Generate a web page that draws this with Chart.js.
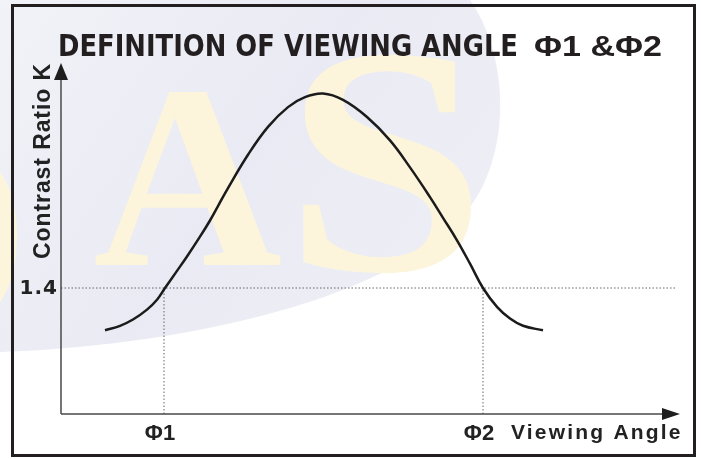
<!DOCTYPE html>
<html>
<head>
<meta charset="utf-8">
<script src="https://cdn.jsdelivr.net/npm/chart.js@4.4.1/dist/chart.umd.min.js"></script>
<style>
  html, body { margin:0; padding:0; background:#fff; }
  #wrap { width:701px; height:459px; position:relative; }
</style>
</head>
<body>
<div id="wrap"><canvas id="c"></canvas></div>
<script>
// Curve: viewing angle (deg, 0 = peak) vs contrast ratio K
const angles   = [-54.5, -50.75, -47.5, -44, -41.5, -39.5, -36.5, -34, -30.75, -28.25, -26.25, -23.75,
                  -18.75, -13.75, -8.75, -4.5, 0,
                  5, 11, 16.75, 21.75, 26.75, 30, 33.5, 36.75, 40, 43.5, 46.75, 50, 55];
const contrast = [0.93, 0.98, 1.05, 1.16, 1.27, 1.4, 1.59, 1.75, 1.97, 2.15, 2.31, 2.51,
                  2.88, 3.19, 3.41, 3.52, 3.56,
                  3.49, 3.3, 3.04, 2.74, 2.41, 2.18, 1.93, 1.67, 1.4, 1.19, 1.06, 0.98, 0.93];
const thresholdK = 1.4;
const phiAngles  = [-39.75, 40];
const phiLabels  = ['Φ1', 'Φ2'];
const xRange = [-65.5, 89.25];
const yRange = [0, 3.9];

const TITLE = 'DEFINITION OF VIEWING ANGLE';
const TITLE_PHI = 'Φ1 &Φ2';

// draw text squeezed/stretched to an exact width
const fitText = (ctx, txt, x, y, w, font) => {
  ctx.save();
  ctx.font = font;
  const m = ctx.measureText(txt).width;
  ctx.translate(x, y);
  ctx.scale(w / m, 1);
  ctx.fillText(txt, 0, 0);
  ctx.restore();
};

const decor = {
  id: 'decor',
  beforeDraw(chart) {
    const ctx = chart.ctx;
    ctx.save();
    ctx.fillStyle = '#fff';
    ctx.fillRect(0, 0, chart.width, chart.height);
    // pale lavender swoosh
    const g = ctx.createLinearGradient(0, 0, 480, 340);
    g.addColorStop(0, '#f2f3f8');
    g.addColorStop(0.5, '#e9eaf3');
    g.addColorStop(1, '#eff0f6');
    ctx.fillStyle = g;
    ctx.beginPath();
    ctx.moveTo(0, 0);
    ctx.lineTo(0, 352);
    ctx.bezierCurveTo(200, 345, 420, 292, 478, 195);
    ctx.bezierCurveTo(512, 135, 505, 50, 470, 0);
    ctx.closePath();
    ctx.fill();
    // pale watermark letters
    ctx.fillStyle = '#fcf5dc';
    ctx.textBaseline = 'alphabetic';
    ctx.font = 'bold 300px "Liberation Serif"';
    ctx.fillText('D', -185, 335);
    ctx.font = 'bold 262px "Liberation Serif"';
    ctx.fillText('A', 93, 265);
    ctx.save();
    ctx.translate(284, 270);
    ctx.scale(1.12, 1);
    ctx.font = 'bold 325px "Liberation Serif"';
    ctx.fillText('S', 0, 0);
    ctx.restore();
    ctx.restore();
  },
  afterDatasetsDraw(chart) {
    const ctx = chart.ctx;
    const a = chart.chartArea;
    const xs = chart.scales.x, ys = chart.scales.y;
    ctx.save();
    // axes
    ctx.strokeStyle = '#4a4a4a';
    ctx.fillStyle = '#1e1e1e';
    ctx.lineWidth = 1.5;
    ctx.beginPath();
    ctx.moveTo(a.left, a.bottom);
    ctx.lineTo(a.left, a.top + 14);
    ctx.moveTo(a.left, a.bottom);
    ctx.lineTo(a.right - 14, a.bottom);
    ctx.stroke();
    ctx.beginPath();
    ctx.moveTo(a.left, a.top);
    ctx.lineTo(a.left - 7, a.top + 17);
    ctx.lineTo(a.left + 7, a.top + 17);
    ctx.closePath();
    ctx.fill();
    ctx.beginPath();
    ctx.moveTo(a.right, a.bottom);
    ctx.lineTo(a.right - 18, a.bottom - 6);
    ctx.lineTo(a.right - 18, a.bottom + 6);
    ctx.closePath();
    ctx.fill();

    // labels
    ctx.fillStyle = '#222';
    ctx.textBaseline = 'middle';
    ctx.textAlign = 'right';
    ctx.font = 'bold 20px "DejaVu Sans", "Liberation Sans"';
    ctx.letterSpacing = '1px';
    ctx.fillText(String(thresholdK), a.left - 3, ys.getPixelForValue(thresholdK) + 1);
    ctx.letterSpacing = '0px';

    ctx.textAlign = 'center';
    ctx.textBaseline = 'alphabetic';
    ctx.font = 'bold 22px "Liberation Sans"';
    phiLabels.forEach((t, i) => {
      ctx.fillText(t, xs.getPixelForValue(phiAngles[i]) - 4, a.bottom + 26);
    });

    ctx.textAlign = 'left';
    ctx.font = 'bold 21px "Liberation Sans"';
    ctx.letterSpacing = '2.2px';
    ctx.fillText('Viewing Angle', 511, 439);

    ctx.save();
    ctx.translate(50, 161);
    ctx.rotate(-Math.PI / 2);
    ctx.textAlign = 'center';
    ctx.font = 'bold 23px "Liberation Sans"';
    ctx.letterSpacing = '0.9px';
    ctx.fillText('Contrast Ratio K', 0, 0);
    ctx.restore();
    ctx.letterSpacing = '0px';

    // title
    ctx.textAlign = 'left';
    ctx.fillStyle = '#231f20';
    fitText(ctx, TITLE, 58, 56, 460, 'bold 31px "DejaVu Sans"');
    fitText(ctx, TITLE_PHI, 534, 56, 128, 'bold 30px "Liberation Sans"');

    // frame
    ctx.strokeStyle = '#231f20';
    ctx.lineWidth = 3;
    ctx.strokeRect(12.5, 5.5, 682, 450);
    ctx.restore();
  }
};

const dotted = { borderColor:'#666', borderWidth:1, borderDash:[1.5, 2], pointRadius:0, fill:false, tension:0 };

new Chart(document.getElementById('c'), {
  type: 'line',
  data: {
    datasets: [
      {
        data: angles.map((x, i) => ({ x, y: contrast[i] })),
        borderColor: '#1b1b1b', borderWidth: 2.5, pointRadius: 0,
        tension: 0.4, fill: false
      },
      { ...dotted, data: [{ x: xRange[0], y: thresholdK }, { x: xRange[1] - 1, y: thresholdK }] },
      ...phiAngles.map(p => ({ ...dotted, data: [{ x: p, y: yRange[0] }, { x: p, y: thresholdK }] }))
    ]
  },
  options: {
    responsive: true, maintainAspectRatio: false, animation: false,
    layout: { padding: { left: 61, right: 21, top: 63, bottom: 45 } },
    plugins: { legend: { display: false }, tooltip: { enabled: false }, title: { display: false } },
    scales: {
      x: { type: 'linear', display: false, min: xRange[0], max: xRange[1] },
      y: { type: 'linear', display: false, min: yRange[0], max: yRange[1] }
    }
  },
  plugins: [decor]
});
</script>
</body>
</html>
